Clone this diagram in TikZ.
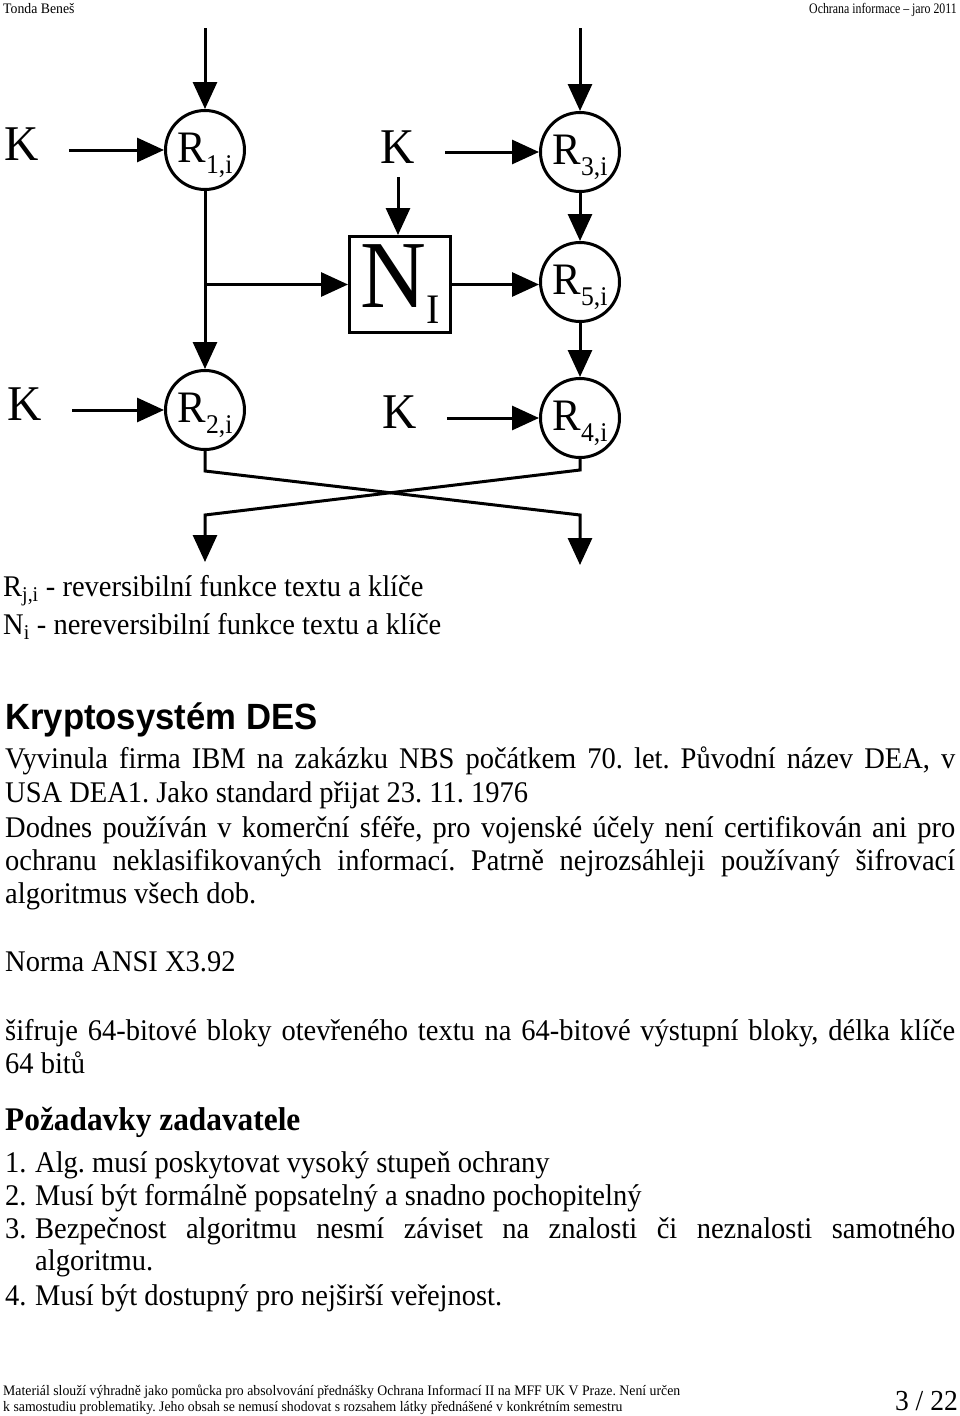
\documentclass[tikz,border=0pt]{standalone}
\usepackage{fontspec}
\setmainfont{Liberation Serif}[FakeStretch=0.95]
\newfontfamily\headsans{Liberation Sans}[FakeStretch=0.95]
\usetikzlibrary{arrows.meta}
\newcommand\fs[1]{\fontsize{#1}{#1}\selectfont}
\newcommand\rlab[1]{R\raisebox{-11pt}{\fs{27}#1,i}}
\newcommand\itemnum[1]{\makebox[30pt][l]{#1}}
\begin{document}
\frenchspacing
\begin{tikzpicture}[x=1pt,y=-1pt,
  conn/.style={line width=3pt},
  arr/.style={conn,-{Triangle[length=27pt,width=24pt]}},
  rnode/.style={circle,draw,line width=3pt,minimum size=79pt,inner sep=0pt,font=\fs{45},text height=36pt,text depth=12pt},
  knode/.style={anchor=base,inner sep=0pt,font=\fs{50}},
  nbox/.style={draw,line width=3pt,minimum width=101pt,minimum height=96pt,inner sep=0pt,font=\fs{96}},
  txt/.style={anchor=base west,inner sep=0pt,font=\fs{30}},
  small/.style={anchor=base west,inner sep=0pt,font=\fs{14.5}},
  foot/.style={anchor=base west,inner sep=0pt,font=\fs{14.5}},
]
\useasboundingbox (0,0) rectangle (960,1416);

% header
\node[small] (hl) at (3,13) {Tonda Beneš};
\node[small,anchor=base east] (hr) at (957,13) {\scalebox{0.86}[1]{Ochrana informace -- jaro 2011}};

% diagram nodes
\node[rnode] (R1) at (205,150) {\rlab{1}};
\node[rnode] (R3) at (580,152) {\rlab{3}};
\node[rnode] (R5) at (580,282) {\rlab{5}};
\node[rnode] (R2) at (205,410) {\rlab{2}};
\node[rnode] (R4) at (580,418) {\rlab{4}};
\node[nbox] (N) at (400,284.5) {N\raisebox{-16pt}{\fs{42}I}};

\node[knode] (K1) at (21.5,160) {K};
\node[knode] (K2) at (398,163) {K};
\node[knode] (K4) at (25,420) {K};
\node[knode] (K5) at (399.5,428) {K};

\coordinate (t1) at (205,28);
\coordinate (t3) at (580,28);
\coordinate (j2) at (205,471);
\coordinate (k2) at (580,515);
\coordinate (b2) at (580,565);
\coordinate (j4) at (580,470);
\coordinate (k4) at (205,515);
\coordinate (b4) at (205,562);

% connectors
\draw[arr] (t1) -- (R1.north);
\draw[arr] (t3) -- (R3.north);
\draw[arr,shorten <=30pt] (K1.east |- R1.west) -- (R1.west);
\draw[arr,shorten <=30pt] (K2.east |- R3.west) -- (R3.west);
\draw[arr,shorten <=14pt] (K2.south) -- (K2.south |- N.north);
\draw[arr] (R1.south) |- (N.west);
\draw[arr] (R1.south) -- (R2.north);
\draw[arr] (N.east) -- (N.east -| R5.west);
\draw[arr] (R3.south) -- (R5.north);
\draw[arr] (R5.south) -- (R4.north);
\draw[arr,shorten <=30pt] (K4.east |- R2.west) -- (R2.west);
\draw[arr,shorten <=30pt] (K5.east |- R4.west) -- (R4.west);
\draw[arr] (R2.south) -- (j2) -- (k2) -- (b2);
\draw[arr] (R4.south) -- (j4) -- (k4) -- (b4);

% legend
\node[txt] (l1) at (3,596) {R\textsubscript{j,i} - reversibilní funkce textu a klíče};
\node[txt] (l2) at (3,634) {N\textsubscript{i} - nereversibilní funkce textu a klíče};

% body
\node[anchor=base west,inner sep=0pt,font=\headsans\bfseries\fs{36.5}] (h1) at (5,729) {Kryptosystém DES};
\node[txt] (p1) at (5,768) {\makebox[950pt][s]{Vyvinula firma IBM na zakázku NBS počátkem 70. let. Původní název DEA, v}};
\node[txt] (p2) at (5,802) {USA DEA1. Jako standard přijat 23. 11. 1976};
\node[txt] (p3) at (5,837) {\makebox[950pt][s]{Dodnes používán v komerční sféře, pro vojenské účely není certifikován ani pro}};
\node[txt] (p4) at (5,870) {\makebox[950pt][s]{ochranu neklasifikovaných informací. Patrně nejrozsáhleji používaný šifrovací}};
\node[txt] (p5) at (5,903) {algoritmus všech dob.};
\node[txt] (p6) at (5,971) {Norma ANSI X3.92};
\node[txt] (p7) at (5,1040) {\makebox[950pt][s]{šifruje 64-bitové bloky otevřeného textu na 64-bitové výstupní bloky, délka klíče}};
\node[txt] (p8) at (5,1073) {64 bitů};
\node[anchor=base west,inner sep=0pt,font=\bfseries\fs{33}] (h2) at (5,1130) {Požadavky zadavatele};
\node[txt] (i1) at (5,1172) {\itemnum{1.}Alg. musí poskytovat vysoký stupeň ochrany};
\node[txt] (i2) at (5,1205) {\itemnum{2.}Musí být formálně popsatelný a snadno pochopitelný};
\node[txt] (i3) at (5,1238) {\itemnum{3.}\makebox[920pt][s]{Bezpečnost algoritmu nesmí záviset na znalosti či neznalosti samotného}};
\node[txt] (i3b) at (35,1270) {algoritmu.};
\node[txt] (i4) at (5,1305) {\itemnum{4.}Musí být dostupný pro nejširší veřejnost.};

% footer
\node[foot] (f1) at (3,1395) {Materiál slouží výhradně jako pomůcka pro absolvování přednášky Ochrana Informací II na MFF UK V Praze. Není určen};
\node[foot] (f2) at (3,1411) {k samostudiu problematiky. Jeho obsah se nemusí shodovat s rozsahem látky přednášené v konkrétním semestru};
\node[anchor=base east,inner sep=0pt,font=\fs{29}] (pg) at (958,1410) {3 / 22};
\end{tikzpicture}
\end{document}
